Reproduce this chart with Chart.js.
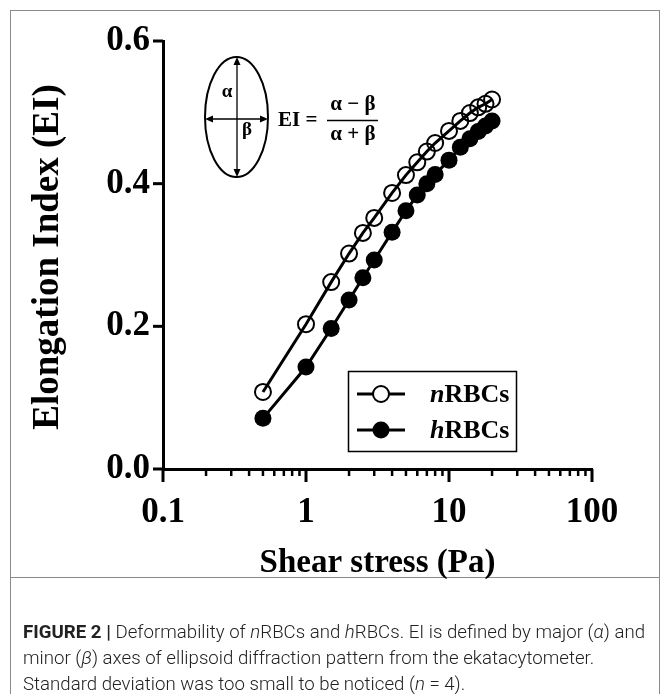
<!DOCTYPE html>
<html>
<head>
<meta charset="utf-8">
<script src="https://cdn.jsdelivr.net/npm/chart.js@4"></script>
<style>
  body { margin: 0; background: #fff; }
  canvas { display: block; }
</style>
</head>
<body>
<canvas id="myChart" width="670" height="694"></canvas>
<script>
// datos
const estres = [0.5, 1, 1.5, 2, 2.5, 3, 4, 5, 6, 7, 8, 10, 12, 14, 16, 18, 20];
const nRBCs = [0.108, 0.203, 0.262, 0.302, 0.331, 0.352, 0.387, 0.412, 0.430, 0.445, 0.457, 0.474, 0.488, 0.499, 0.507, 0.512, 0.518];
const hRBCs = [0.071, 0.143, 0.197, 0.237, 0.268, 0.293, 0.332, 0.362, 0.384, 0.400, 0.413, 0.433, 0.451, 0.463, 0.473, 0.481, 0.488];
const etiquetasX = [0.1, 1, 10, 100];
const etiquetasY = [0, 0.2, 0.4, 0.6];

const serif = '"Liberation Serif", "Times New Roman", serif';
const sans = 'Roboto, "Liberation Sans", sans-serif';

const esMayor = v => Math.abs(Math.log10(v) - Math.round(Math.log10(v))) < 1e-9;

function textoMixto(c, partes, x, y) {
    let px = x;
    partes.forEach(p => {
        c.font = p[1];
        c.fillText(p[0], px, y);
        px += c.measureText(p[0]).width;
    });
    return px - x;
}

function flecha(c, x1, y1, x2, y2) {
    const ang = Math.atan2(y2 - y1, x2 - x1);
    const L = 8, W = 3.5;
    c.beginPath();
    c.moveTo(x2, y2);
    c.lineTo(x2 - L * Math.cos(ang) + W * Math.sin(ang), y2 - L * Math.sin(ang) - W * Math.cos(ang));
    c.lineTo(x2 - L * Math.cos(ang) - W * Math.sin(ang), y2 - L * Math.sin(ang) + W * Math.cos(ang));
    c.closePath();
    c.fill();
}

const adornos = {
    id: 'adornos',
    beforeDraw(chart) {
        const c = chart.ctx;
        c.save();
        c.fillStyle = '#fff';
        c.fillRect(0, 0, chart.width, chart.height);
        c.restore();
    },
    afterDraw(chart) {
        const c = chart.ctx;
        const xs = chart.scales.x, ys = chart.scales.y;
        const area = chart.chartArea;
        c.save();

        // marco de la figura
        c.strokeStyle = '#8a8a8a';
        c.lineWidth = 1;
        c.strokeRect(10.5, 10.5, 649, 720);
        c.beginPath();
        c.moveTo(10, 577.5);
        c.lineTo(660, 577.5);
        c.stroke();

        // marcas de los ejes
        c.strokeStyle = '#000';
        xs.ticks.forEach(t => {
            const px = xs.getPixelForValue(t.value);
            const mayor = esMayor(t.value);
            c.lineWidth = mayor ? 3 : 2.5;
            c.beginPath();
            c.moveTo(px, area.bottom);
            c.lineTo(px, area.bottom + (mayor ? 13 : 7));
            c.stroke();
        });
        c.lineWidth = 3;
        ys.ticks.forEach(t => {
            const py = ys.getPixelForValue(t.value);
            c.beginPath();
            c.moveTo(area.left, py);
            c.lineTo(area.left - 10, py);
            c.stroke();
        });

        // titulos de los ejes
        c.fillStyle = '#000';
        c.textAlign = 'center';
        c.textBaseline = 'middle';
        c.font = 'bold 33px ' + serif;
        c.fillText('Shear stress (Pa)', (area.left + area.right) / 2, 563);
        c.save();
        c.translate(48, (area.top + area.bottom) / 2 + 2);
        c.rotate(-Math.PI / 2);
        c.font = 'bold 37px ' + serif;
        c.fillText('Elongation Index (EI)', 0, 0);
        c.restore();

        // leyenda
        c.lineWidth = 1.5;
        c.strokeRect(348.5, 371.5, 168, 80);
        c.textAlign = 'left';
        chart.data.datasets.forEach((ds, i) => {
            const y = 394 + i * 36;
            c.strokeStyle = '#000';
            c.lineWidth = 3;
            c.beginPath();
            c.moveTo(357, y);
            c.lineTo(405, y);
            c.stroke();
            c.beginPath();
            c.arc(381, y, ds.pointRadius, 0, Math.PI * 2);
            if (i === 1) {
                c.fillStyle = '#000';
                c.fill();
            } else {
                c.fillStyle = '#fff';
                c.fill();
                c.lineWidth = 2;
                c.stroke();
            }
            c.fillStyle = '#000';
            textoMixto(c, [[ds.label[0], 'italic bold 26px ' + serif], [ds.label.slice(1), 'bold 26px ' + serif]], 430, y + 1);
        });

        // recuadro con la elipse y la formula
        c.strokeStyle = '#000';
        c.lineWidth = 2;
        c.beginPath();
        c.ellipse(236.5, 117, 31.5, 60, 0, 0, Math.PI * 2);
        c.stroke();
        c.lineWidth = 1.3;
        c.beginPath();
        c.moveTo(237, 62); c.lineTo(237, 172);
        c.moveTo(210, 119); c.lineTo(263, 119);
        c.stroke();
        c.fillStyle = '#000';
        flecha(c, 237, 117, 237, 57);
        flecha(c, 237, 117, 237, 177);
        flecha(c, 237, 119, 205, 119);
        flecha(c, 237, 119, 268, 119);
        c.font = 'bold 19px ' + serif;
        c.textAlign = 'center';
        c.fillText('α', 227, 92);
        c.fillText('β', 247, 130);
        c.font = 'bold 21px ' + serif;
        c.textAlign = 'left';
        c.fillText('EI =', 278, 121);
        c.textAlign = 'center';
        c.fillText('α − β', 353, 105);
        c.fillText('α + β', 353, 135);
        c.lineWidth = 1.4;
        c.beginPath();
        c.moveTo(327, 120.5);
        c.lineTo(378, 120.5);
        c.stroke();

        // pie de figura
        const reg = '300 18px ' + sans, ita = 'italic 300 18px ' + sans, neg = 'bold 18px ' + sans;
        const lineas = [
            [['FIGURE 2 | ', neg], ['Deformability of ', reg], ['n', ita], ['RBCs and ', reg], ['h', ita], ['RBCs. EI is defined by major (', reg], ['α', ita], [') and', reg]],
            [['minor (', reg], ['β', ita], [') axes of ellipsoid diffraction pattern from the ekatacytometer.', reg]],
            [['Standard deviation was too small to be noticed (', reg], ['n', ita], [' = 4).', reg]]
        ];
        c.textAlign = 'left';
        c.textBaseline = 'alphabetic';
        c.fillStyle = '#222';
        let ancho = 0;
        lineas[0].forEach(p => { c.font = p[1]; ancho += c.measureText(p[0]).width; });
        const sx = 622 / ancho;
        lineas.forEach((ln, i) => {
            c.save();
            c.translate(23, 638 + i * 26);
            c.scale(sx, 1);
            textoMixto(c, ln, 0, 0);
            c.restore();
        });

        c.restore();
    }
};

const ctx = document.getElementById('myChart').getContext('2d');

const myChart = new Chart(ctx, {
    type: 'line',
    data: {
        datasets: [{
            label: 'nRBCs',
            data: estres.map((x, i) => ({ x: x, y: nRBCs[i] })),
            borderColor: '#000',
            borderWidth: 3,
            pointRadius: 8,
            pointBorderWidth: 2,
            pointBorderColor: '#000',
            pointBackgroundColor: 'rgba(0,0,0,0)',
            tension: 0
        },
        {
            label: 'hRBCs',
            data: estres.map((x, i) => ({ x: x, y: hRBCs[i] })),
            borderColor: '#000',
            borderWidth: 3,
            pointRadius: 8.5,
            pointBorderWidth: 0,
            pointBackgroundColor: '#000',
            tension: 0
        }]
    },
    options: {
        responsive: false,
        animation: false,
        layout: { padding: { top: 41, right: 78, bottom: 0, left: 0 } },
        plugins: {
            legend: { display: false },
            tooltip: { enabled: false }
        },
        scales: {
            x: {
                type: 'logarithmic',
                min: 0.1,
                max: 100,
                afterBuildTicks: scale => {
                    const t = [];
                    for (let d = 0; d < etiquetasX.length - 1; d++) {
                        for (let k = 1; k < 10; k++) t.push({ value: etiquetasX[d] * k });
                    }
                    t.push({ value: etiquetasX[etiquetasX.length - 1] });
                    scale.ticks = t;
                },
                afterFit: scale => { scale.height = 225; },
                grid: { display: false, drawTicks: false },
                border: { display: true, color: '#000', width: 3 },
                ticks: {
                    autoSkip: false,
                    maxRotation: 0,
                    padding: 23,
                    color: '#000',
                    font: { family: serif, size: 35, weight: 'bold' },
                    callback: v => esMayor(v) ? String(v) : ''
                }
            },
            y: {
                min: 0,
                max: 0.6,
                afterBuildTicks: scale => {
                    scale.ticks = etiquetasY.map(v => ({ value: v }));
                },
                afterFit: scale => { scale.width = 163; },
                grid: { display: false, drawTicks: false },
                border: { display: true, color: '#000', width: 3 },
                ticks: {
                    padding: 13,
                    color: '#000',
                    font: { family: serif, size: 35, weight: 'bold' },
                    callback: v => v.toFixed(1)
                }
            }
        }
    },
    plugins: [adornos]
});
</script>
</body>
</html>
